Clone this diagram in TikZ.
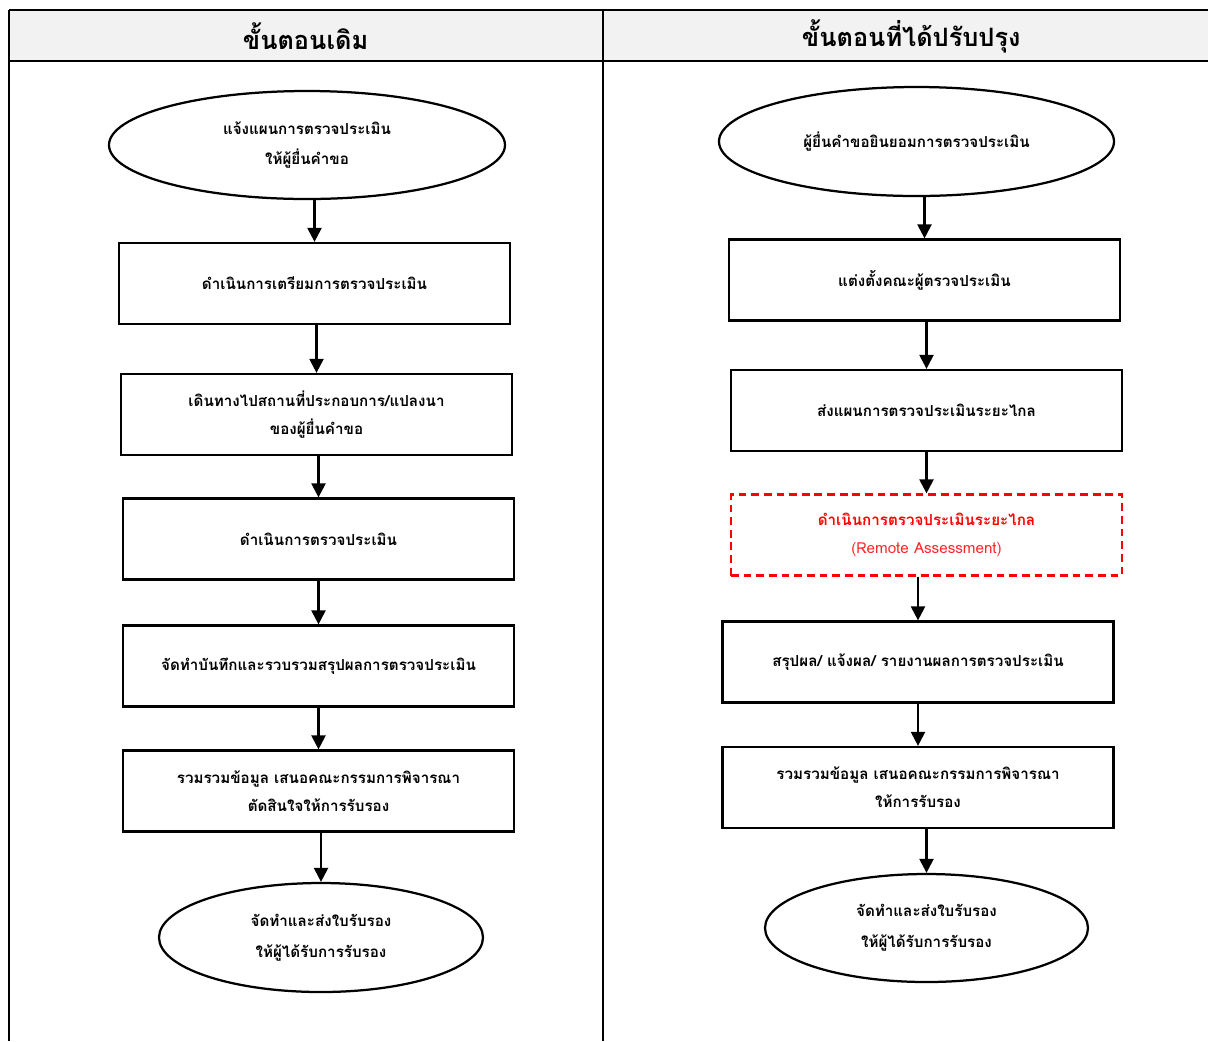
\documentclass[tikz,border=0pt]{standalone}
\usepackage{fontspec}
\setmainfont[Script=Thai]{Loma}
\usetikzlibrary{arrows.meta,positioning,shapes.geometric}
\definecolor{headgray}{HTML}{F2F2F2}

\begin{document}
\begin{tikzpicture}[on grid,
        proc/.style={draw, line width=1.6pt, minimum width=9.775cm, minimum height=2.025cm,
                inner sep=0pt, align=center, font=\bfseries\fontsize{10.8}{20}\selectfont},
        term/.style={ellipse, draw, line width=1.6pt, inner sep=0pt, align=center,
                font=\bfseries\fontsize{10.8}{22}\selectfont},
        remote/.style={proc, draw=red, dash pattern=on 5.5pt off 3.5pt, text=red},
        head/.style={font=\bfseries\fontsize{18}{20}\selectfont},
        flow/.style={-{Triangle[length=10pt,width=10pt]}, line width=1.6pt}]
                \useasboundingbox (0,0) rectangle (30.2,-26.025);
                % table frame
                \fill[headgray] (0.225,-0.25) rectangle (30.2,-1.525);
                \draw[line width=1.1pt] (0.225,-0.25) -- (30.2,-0.25);
                \draw[line width=1.8pt] (0.225,-1.525) -- (30.2,-1.525);
                \draw[line width=1.1pt] (0.225,-0.25) -- (0.225,-26.025)
                        (15.075,-0.25) -- (15.075,-26.025);
                \node[head] (h_l) at (7.64,-0.9) {ขั้นตอนเดิม};
                \node[head] (h_r) at (22.78,-0.9) {ขั้นตอนที่ได้ปรับปรุง};

                % left column
                \node[term, minimum width=9.9cm, minimum height=2.7cm] (l_0) at (7.675,-3.625)
                        {แจ้งแผนการตรวจประเมิน\\ให้ผู้ยื่นคำขอ};
                \node[proc] (l_1) [below=3.4625cm of l_0, xshift=0.1875cm] {ดำเนินการเตรียมการตรวจประเมิน};
                \node[proc] (l_2) [below=3.275cm of l_1, xshift=0.05cm]
                        {เดินทางไปสถานที่ประกอบการ/แปลงนา\\ของผู้ยื่นคำขอ};
                \node[proc] (l_3) [below=3.1125cm of l_2, xshift=0.05cm] {ดำเนินการตรวจประเมิน};
                \node[proc] (l_4) [below=3.175cm of l_3] {จัดทำบันทึกและรวบรวมสรุปผลการตรวจประเมิน};
                \node[proc] (l_5) [below=3.125cm of l_4]
                        {รวมรวมข้อมูล เสนอคณะกรรมการพิจารณา\\ตัดสินใจให้การรับรอง};
                \node[term, minimum width=8.1cm, minimum height=2.725cm] (l_6) [below=3.6625cm of l_5, xshift=0.0625cm]
                        {จัดทำและส่งใบรับรอง\\ให้ผู้ได้รับการรับรอง};

                % right column
                \node[term, minimum width=9.875cm, minimum height=2.725cm] (r_0) at (22.9125,-3.5375)
                        {ผู้ยื่นคำขอยินยอมการตรวจประเมิน};
                \node[proc] (r_1) [below=3.4625cm of r_0, xshift=0.2cm] {แต่งตั้งคณะผู้ตรวจประเมิน};
                \node[proc] (r_2) [below=3.2625cm of r_1, xshift=0.05cm] {ส่งแผนการตรวจประเมินระยะไกล};
                \node[remote] (r_3) [below=3.1125cm of r_2]
                        {ดำเนินการตรวจประเมินระยะไกล\\{\mdseries\color{red!85}(Remote Assessment)}};
                \node[proc] (r_4) [below=3.175cm of r_3, xshift=-0.2125cm] {สรุปผล/ แจ้งผล/ รายงานผลการตรวจประเมิน};
                \node[proc] (r_5) [below=3.1375cm of r_4]
                        {รวมรวมข้อมูล เสนอคณะกรรมการพิจารณา\\ให้การรับรอง};
                \node[term, minimum width=8.075cm, minimum height=2.7cm] (r_6) [below=3.5125cm of r_5, xshift=0.2125cm]
                        {จัดทำและส่งใบรับรอง\\ให้ผู้ได้รับการรับรอง};

                \foreach \a/\b in {l_0/l_1, l_1/l_2, l_2/l_3, l_3/l_4, l_4/l_5, l_5/l_6,
                        r_0/r_1, r_1/r_2, r_2/r_3, r_3/r_4, r_4/r_5, r_5/r_6}
                        \draw[flow] (\a.south -| \b.north) -- (\b.north);
\end{tikzpicture}
\end{document}
